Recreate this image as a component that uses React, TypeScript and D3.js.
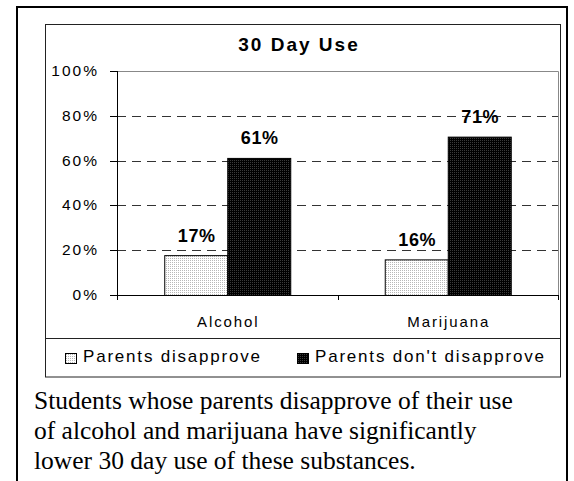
import React from "react";
import * as d3 from "d3";

const title = "30 Day Use";
const categories = ["Alcohol", "Marijuana"];
const seriesNames = ["Parents disapprove", "Parents don't disapprove"];
const disapproveValues = [17.8, 15.9];
const dontDisapproveValues = [61.2, 70.7];
const valueLabels = [["17%", "16%"], ["61%", "71%"]];
const yTicks = [0, 20, 40, 60, 80, 100];
const captionLines = [
  "Students whose parents disapprove of their use",
  "of alcohol and marijuana have significantly",
  "lower 30 day use of these substances.",
];

const W = 574;
const H = 481;
const plot = { left: 117, right: 558, top: 71, bottom: 295 };
const sans = "'Liberation Sans', Arial, sans-serif";
const serif = "'Liberation Serif', 'Times New Roman', serif";

export default function App() {
  const series = [disapproveValues, dontDisapproveValues];
  const x = d3.scaleBand<string>().domain(categories).range([plot.left, plot.right]);
  const bw = 63;
  const y = d3.scaleLinear().domain([0, 100]).range([plot.bottom, plot.top]);
  const fills = ["url(#lightPat)", "url(#darkPat)"];

  return (
    <svg width={W} height={H} style={{ position: "absolute", left: 0, top: 0 }}>
      <defs>
        <pattern id="lightPat" width="2" height="2" patternUnits="userSpaceOnUse">
          <rect width="2" height="2" fill="#ffffff" />
          <rect width="1" height="1" fill="#b8b8b8" />
        </pattern>
        <pattern id="darkPat" width="2" height="2" patternUnits="userSpaceOnUse">
          <rect width="2" height="2" fill="#000000" />
          <rect width="1" height="1" fill="#3a3a3a" />
        </pattern>
      </defs>
      <rect width={W} height={H} fill="#fff" />
      {/* outer frame */}
      <path d={`M17,${H} V7 H567 V${H}`} fill="none" stroke="#000" strokeWidth={2} />
      {/* chart box */}
      <rect x={45.5} y={24.5} width={515} height={352.5} fill="#fff" stroke="#222" strokeWidth={1} />
      <line x1={45.5} x2={560.5} y1={338.5} y2={338.5} stroke="#222" />
      {/* title */}
      <text x={299} y={51} textAnchor="middle" fontFamily={sans} fontWeight="bold" fontSize={19} letterSpacing={2}>
        {title}
      </text>
      {/* plot frame top/right */}
      <path d={`M${plot.left},${plot.top + 0.5} H${plot.right + 0.5} V${plot.bottom}`} fill="none" stroke="#888" />
      {/* gridlines */}
      {yTicks.filter((t) => t > 0 && t < 100).map((t) => (
        <line key={t} x1={plot.left} x2={plot.right} y1={Math.round(y(t)) + 0.5} y2={Math.round(y(t)) + 0.5}
          stroke="#333" strokeDasharray="9,6" />
      ))}
      {/* bars */}
      {categories.map((c, ci) =>
        series.map((vals, si) => {
          const cx = (x(c) as number) + x.bandwidth() / 2;
          const x0 = cx - bw + si * bw;
          const top = y(vals[ci]);
          return (
            <g key={c + si}>
              <rect x={x0 + 0.5} y={top + 0.5} width={bw} height={plot.bottom - top} fill={fills[si]} stroke="#000" />
              <text x={x0 + bw / 2 + 1} y={top - 13.5} textAnchor="middle" fontFamily={sans} fontWeight="bold" fontSize={18} letterSpacing={0.6}>
                {valueLabels[si][ci]}
              </text>
            </g>
          );
        })
      )}
      {/* y axis */}
      <line x1={plot.left + 0.5} x2={plot.left + 0.5} y1={plot.top} y2={plot.bottom + 5} stroke="#000" />
      {yTicks.map((t) => (
        <g key={t}>
          <line x1={110} x2={plot.left} y1={Math.round(y(t)) + 0.5} y2={Math.round(y(t)) + 0.5} stroke="#000" />
          <text x={99} y={y(t) + 5} textAnchor="end" fontFamily={sans} fontSize={15.5} letterSpacing={2}>
            {t + "%"}
          </text>
        </g>
      ))}
      {/* x axis */}
      <line x1={plot.left} x2={plot.right + 1} y1={plot.bottom + 0.5} y2={plot.bottom + 0.5} stroke="#000" />
      {[plot.left, ...categories.map((c) => (x(c) as number) + x.bandwidth())].map((tx, i) => (
        <line key={i} x1={Math.round(tx) + 0.5} x2={Math.round(tx) + 0.5} y1={plot.bottom} y2={plot.bottom + 5} stroke="#000" />
      ))}
      {categories.map((c) => (
        <text key={c} x={(x(c) as number) + x.bandwidth() / 2 + 1} y={327} textAnchor="middle" fontFamily={sans} fontSize={15} letterSpacing={1.9}>
          {c}
        </text>
      ))}
      {/* legend */}
      {seriesNames.map((n, i) => {
        const lx = i === 0 ? 65 : 297;
        return (
          <g key={n}>
            <rect x={lx + 0.5} y={353.5} width={11} height={10} fill={fills[i]} stroke="#000" />
            <text x={lx + 18} y={362} fontFamily={sans} fontSize={17} letterSpacing={1.8}>
              {n}
            </text>
          </g>
        );
      })}
      {/* caption */}
      {captionLines.map((l, i) => (
        <text key={i} x={34} y={409 + i * 30} fontFamily={serif} fontSize={25.5}>
          {l}
        </text>
      ))}
    </svg>
  );
}
